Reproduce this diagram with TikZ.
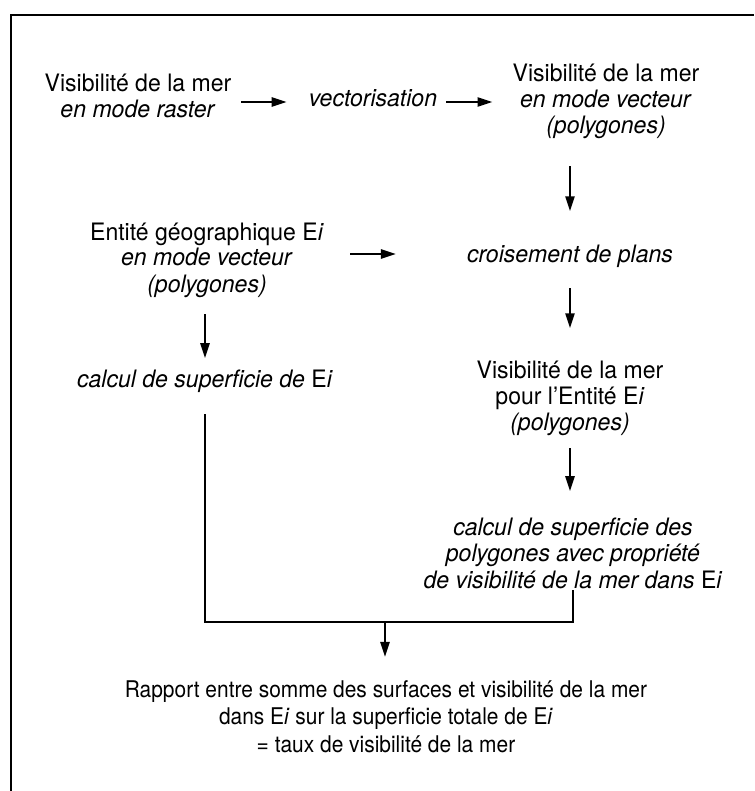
\documentclass[tikz,border=0pt]{standalone}
\usepackage{fontspec}
\setmainfont{TeX Gyre Heros}[FakeStretch=0.96]
\newfontfamily\narrowfont{TeX Gyre Heros}[FakeStretch=0.91]
\usetikzlibrary{arrows.meta}
\begin{document}
\begin{tikzpicture}[x=0.5pt, y=-0.5pt, line width=1.2pt, >={Triangle[length=7.5pt,width=4.5pt]},
		txt/.style={align=center, inner sep=0pt, anchor=base, font=\fontsize{12}{13}\selectfont}]
		\useasboundingbox (0,0) rectangle (754,791);
		\draw[line width=1.4pt] (11,791) -- (11,15) -- (754,15);
		% nodes sit on the baseline of their last line
		\node[txt] (A) at (138,118) {Visibilité de la mer\\ \textit{en mode raster}};
		\node[txt] (V) at (373,107) {\textit{vectorisation}};
		\node[txt] (B) at (606,134) {Visibilité de la mer\\ \textit{en mode vecteur}\\ \textit{(polygones)}};
		\node[txt] (D) at (207,292) {Entité géographique E\textit{i}\\ \textit{en mode vecteur}\\ \textit{(polygones)}};
		\node[txt] (C) at (570,262) {\textit{croisement de plans}};
		\node[txt] (E) at (205,387) {\textit{calcul de superficie de} E\textit{i}};
		\node[txt] (F) at (570,430) {Visibilité de la mer\\ pour l'Entité E\textit{i}\\ \textit{(polygones)}};
		\node[txt, font=\fontsize{12}{13.25}\selectfont] (G) at (573,588) {\textit{calcul de superficie des}\\ \textit{polygones avec propriété}\\ \textit{de visibilité de la mer dans} E\textit{i}};
		\node[txt, font=\narrowfont\fontsize{11.5}{13.75}\selectfont] (H) at (386,752) {Rapport entre somme des surfaces et visibilité de la mer\\ dans E\textit{i} sur la superficie totale de E\textit{i}\\ = taux de visibilité de la mer};
		\coordinate (a1) at ([yshift=2.5pt]V.base west);
		\coordinate (c1) at ([yshift=4pt]C.base west);
		\coordinate (J) at (385,622);
		% arrows
		\draw[->, shorten <=4.5pt, shorten >=10.5pt] (a1 -| A.east) -- (a1);
		\draw[->, shorten <=4pt, shorten >=9.5pt] (V.east |- a1) -- (a1 -| B.west);
		\draw[->, shorten <=13pt, shorten >=16pt] (B.south -| C.north) -- (C.north);
		\draw[->, shorten <=12.5pt, shorten >=35pt] (c1 -| D.east) -- (c1);
		\draw[->, shorten <=8pt, shorten >=5pt] (D.south -| E.north) -- (E.north);
		\draw[->, shorten <=10pt, shorten >=15.5pt] (C.south) -- (F.north);
		\draw[->, shorten <=6pt, shorten >=12.5pt] (F.south) -- (F.south |- G.north);
		\draw[shorten <=10.5pt] (E.south) -- (E.south |- J) -| (G.south);
		\draw[->, shorten >=11pt] (J) -- (J |- H.north);
	\end{tikzpicture}
\end{document}
